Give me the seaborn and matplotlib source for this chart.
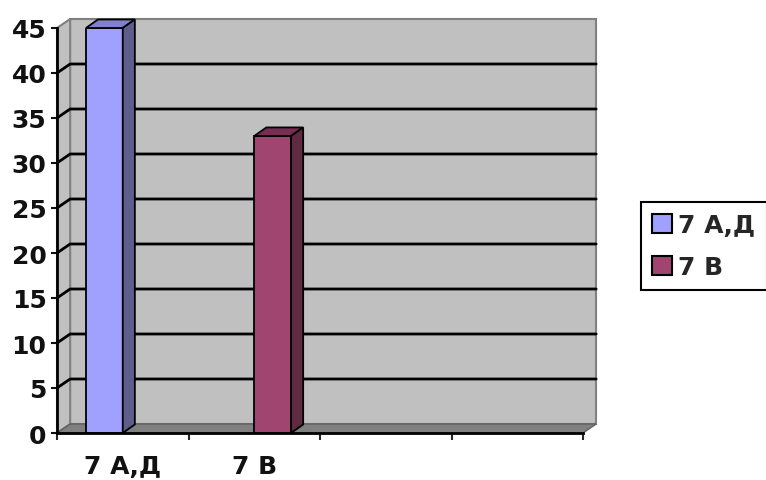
import pandas as pd
import seaborn as sns
import matplotlib.pyplot as plt
from matplotlib.patches import Polygon, Patch, Rectangle

# datos
series = ['7 А,Д', '7 В']
categories = ['7 А,Д', '7 В']
values = [45, 33]
yticks = [0, 5, 10, 15, 20, 25, 30, 35, 40, 45]
colors = ['#a0a0ff', '#a04470']
side_colors = ['#5e5e8c', '#5e2b42']
top_colors = ['#8080cc', '#7a2d52']

df = pd.DataFrame({'categoria': categories, 'serie': series, 'valor': values})

sns.set_theme(style="white")
plt.rcParams['font.family'] = ['DejaVu Sans']

fig = plt.figure(figsize=(7.66, 4.81), dpi=100)
ax = fig.add_axes([57 / 766, 1 - 434 / 481, (583 - 57) / 766, (434 - 29) / 481])
ax.set_facecolor('none')

sns.barplot(data=df, x='categoria', y='valor', hue='serie', hue_order=series,
            order=categories, palette=colors, width=0.56, dodge=True,
            edgecolor='black', linewidth=1.3, saturation=1, ax=ax, zorder=3)
bars = [p for p in ax.patches if isinstance(p, Rectangle) and p.get_height() > 0]

ax.set_xlim(-0.5, 3.5)
ax.set_ylim(0, 45)
x0, x1 = -0.5, 3.5
DX, DY = 0.1, 1.0  # profundidad del efecto 3D (unidades de datos)

# paredes: fondo, lateral y suelo
ax.add_patch(Polygon([(x0 + DX, DY), (x1 + DX, DY), (x1 + DX, 45 + DY), (x0 + DX, 45 + DY)],
                     closed=True, facecolor='#c0c0c0', edgecolor='#808080', lw=1.5,
                     clip_on=False, zorder=0))
ax.add_patch(Polygon([(x0, 0), (x0 + DX, DY), (x0 + DX, 45 + DY), (x0, 45)],
                     closed=True, facecolor='#c0c0c0', edgecolor='#808080', lw=1.5,
                     clip_on=False, zorder=0))
ax.add_patch(Polygon([(x0, 0), (x1, 0), (x1 + DX, DY), (x0 + DX, DY)],
                     closed=True, facecolor='#808080', edgecolor='#606060', lw=1,
                     clip_on=False, zorder=1))

# lineas de cuadricula
for v in yticks[1:-1]:
    ax.plot([x0, x0 + DX, x1 + DX], [v, v + DY, v + DY], color='black', lw=2,
            clip_on=False, zorder=1)

# caras superior y lateral de las barras
for i, p in enumerate(bars):
    bx, bw, bh = p.get_x(), p.get_width(), p.get_height()
    ax.add_patch(Polygon([(bx, bh), (bx + bw, bh), (bx + bw + DX * 0.92, bh + DY * 0.95),
                          (bx + DX * 0.92, bh + DY * 0.95)], closed=True,
                         facecolor=top_colors[i], edgecolor='black', lw=1.3,
                         clip_on=False, zorder=3))
    ax.add_patch(Polygon([(bx + bw, 0), (bx + bw + DX * 0.92, DY * 0.95),
                          (bx + bw + DX * 0.92, bh + DY * 0.95), (bx + bw, bh)], closed=True,
                         facecolor=side_colors[i], edgecolor='black', lw=1.3,
                         clip_on=False, zorder=3))

# ejes
for s in ['top', 'right']:
    ax.spines[s].set_visible(False)
for s in ['left', 'bottom']:
    ax.spines[s].set_color('black')
    ax.spines[s].set_linewidth(2)
    ax.spines[s].set_zorder(4)

ax.set_yticks(yticks)
ax.tick_params(axis='y', labelsize=18, length=4.5, width=1.5, pad=3, colors='#111111', left=True)
ax.set_xticks([0, 1])
ax.set_xticklabels(categories)
ax.set_xticks([-0.5, 0.5, 1.5, 2.5, 3.5], minor=True)
ax.tick_params(axis='x', which='major', labelsize=18, length=0, pad=15, colors='#111111')
ax.tick_params(axis='x', which='minor', length=5, width=1.5, bottom=True)
for lbl in ax.get_xticklabels() + ax.get_yticklabels():
    lbl.set_fontweight('bold')
ax.set_xlabel('')
ax.set_ylabel('')

# leyenda
if ax.get_legend() is not None:
    ax.get_legend().remove()
handles = [Patch(facecolor=c, edgecolor='black', lw=1.5) for c in colors]
leg = fig.legend(handles, series, loc='upper left', bbox_to_anchor=(641 / 766, 1 - 203 / 481),
                 frameon=True, fancybox=False, edgecolor='black', framealpha=1,
                 prop={'size': 18, 'weight': 'bold'}, handlelength=0.8, handleheight=0.8,
                 handletextpad=0.25, labelspacing=0.7, borderpad=0.45, borderaxespad=0)
leg.get_frame().set_linewidth(1.5)

plt.savefig('out.png', dpi=100)
